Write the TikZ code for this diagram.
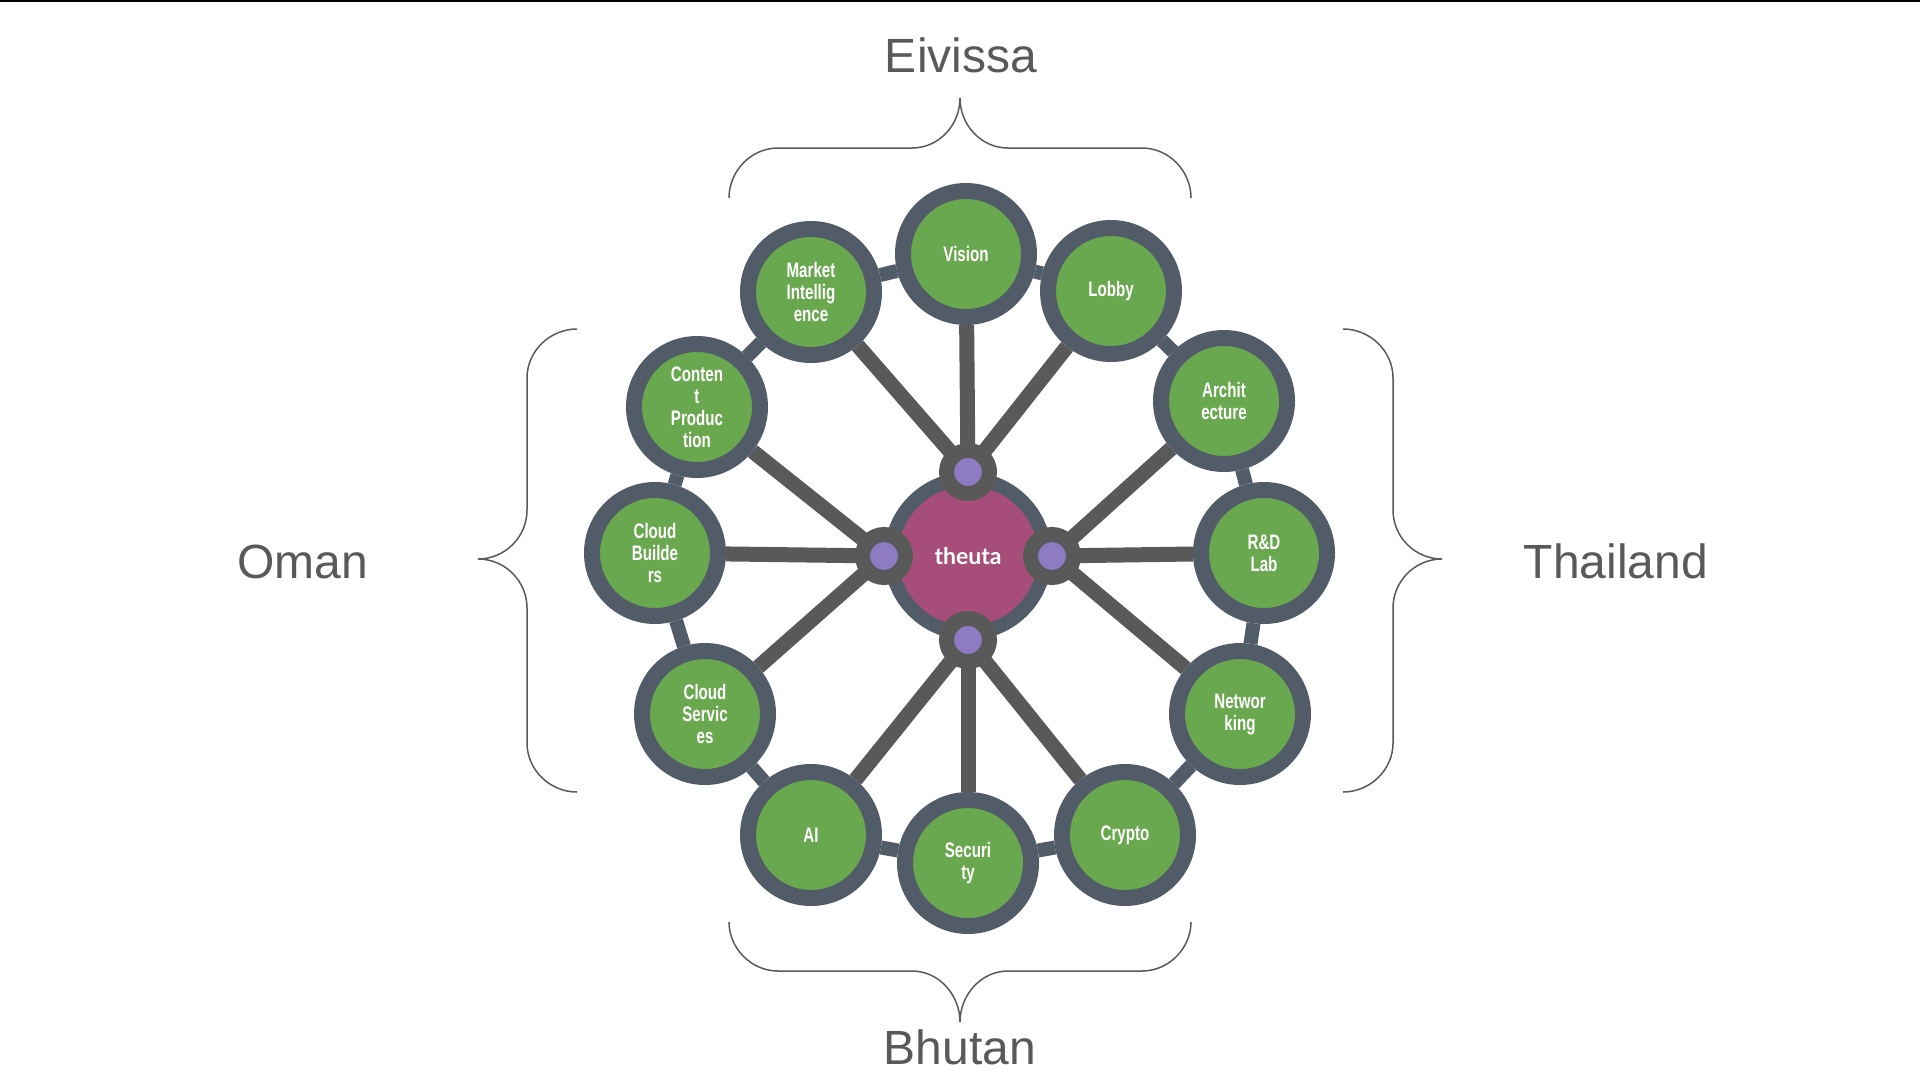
\documentclass[tikz,border=0pt]{standalone}
\usepackage{fontspec}
\setmainfont{Liberation Sans}
\newfontfamily\labelfont[FakeStretch=0.72]{Liberation Sans}
\newfontfamily\hubfont{Lato}
\usetikzlibrary{backgrounds}
\definecolor{ringgray}{RGB}{82,92,104}
\definecolor{leafgreen}{RGB}{106,168,79}
\definecolor{spokegray}{RGB}{89,89,89}
\definecolor{hubpink}{RGB}{166,77,121}
\definecolor{dotpurple}{RGB}{142,124,195}
\definecolor{textgray}{RGB}{89,89,89}

\begin{document}
\begin{tikzpicture}[x=1pt, y=-1pt,
    leaf/.style={circle, draw=ringgray, line width=16pt, fill=leafgreen, minimum size=126pt, inner sep=0pt,
        text=white, align=center, font=\labelfont\bfseries\fontsize{21}{22}\selectfont},
    hub/.style={circle, draw=ringgray, line width=14pt, fill=hubpink, minimum size=154pt, inner sep=0pt,
        text=white, font=\hubfont\bfseries\fontsize{23}{26}\selectfont},
    joint/.style={circle, draw=spokegray, line width=15pt, fill=dotpurple, minimum size=43pt, inner sep=0pt},
    spoke/.style={spokegray, line width=15pt},
    link/.style={ringgray, line width=14pt},
    brace/.style={textgray, line width=1.5pt},
    region/.style={anchor=base, inner sep=0pt, text=textgray, font=\fontsize{48}{48}\selectfont}]
    \useasboundingbox (0,0) rectangle (1920,1080);
    \draw[black, line width=1.5pt] (0,0.75) -- (1920,0.75);

    % Regions
    \node[region] (eivissa) at (961, 72) {Eivissa};
    \node[region] (bhutan) at (960, 1064) {Bhutan};
    \node[region] (oman) at (303, 578) {Oman};
    \node[region] (thailand) at (1616, 578) {Thailand};

    % Braces
    \draw[brace] (729,198) .. controls (729,171) and (751,148) .. (778,148) -- (912,148)
        .. controls (939,148) and (960,125) .. (960,98) .. controls (960,125) and (981,148) .. (1008,148)
        -- (1142,148) .. controls (1169,148) and (1191,171) .. (1191,198);
    \draw[brace] (729,922) .. controls (729,948) and (751,971) .. (778,971) -- (912,971)
        .. controls (939,971) and (960,995) .. (960,1022) .. controls (960,995) and (981,971) .. (1008,971)
        -- (1142,971) .. controls (1169,971) and (1191,948) .. (1191,922);
    \draw[brace] (577,329) .. controls (550,329) and (527,351) .. (527,378) -- (527,510)
        .. controls (527,537) and (505,559) .. (478,559) .. controls (505,559) and (527,581) .. (527,608)
        -- (527,743) .. controls (527,770) and (550,792) .. (577,792);
    \draw[brace] (1343,329) .. controls (1370,329) and (1393,351) .. (1393,378) -- (1393,510)
        .. controls (1393,537) and (1415,559) .. (1442,559) .. controls (1415,559) and (1393,581) .. (1393,608)
        -- (1393,743) .. controls (1393,770) and (1370,792) .. (1343,792);

    % Outer circles
    \node[leaf] (vision) at (966, 254) {Vision};
    \node[leaf] (lobby) at (1111, 291) {Lobby};
    \node[leaf] (arch) at (1224, 401) {Archit\\ecture};
    \node[leaf] (rnd) at (1264, 553) {R\&D\\Lab};
    \node[leaf] (net) at (1240, 714) {Networ\\king};
    \node[leaf] (crypto) at (1125, 835) {Crypto};
    \node[leaf] (sec) at (968, 863) {Securi\\ty};
    \node[leaf] (ai) at (811, 835) {AI};
    \node[leaf] (csvc) at (705, 714) {Cloud\\Servic\\es};
    \node[leaf] (cbld) at (655, 553) {Cloud\\Builde\\rs};
    \node[leaf] (cprod) at (697, 407) {Conten\\t\\Produc\\tion};
    \node[leaf] (mkt) at (811, 292) {Market\\Intellig\\ence};

    % Hub and joints
    \node[hub] (theuta) at (968, 556) {theuta};
    \node[joint] (jn) at (theuta.north) {};
    \node[joint] (je) at (theuta.east) {};
    \node[joint] (js) at (theuta.south) {};
    \node[joint] (jw) at (theuta.west) {};

    \begin{scope}[on background layer]
        % Ring links
        \draw[link] (vision) -- (lobby);
        \draw[link] (lobby) -- (arch);
        \draw[link] (arch) -- (rnd);
        \draw[link] (rnd) -- (net);
        \draw[link] (net) -- (crypto);
        \draw[link] (crypto) -- (sec);
        \draw[link] (sec) -- (ai);
        \draw[link] (ai) -- (csvc);
        \draw[link] (csvc) -- (cbld);
        \draw[link] (cbld) -- (cprod);
        \draw[link] (cprod) -- (mkt);
        \draw[link] (mkt) -- (vision);

        % Spokes
        \draw[spoke] (jn.center) -- (mkt);
        \draw[spoke] (jn.center) -- (vision);
        \draw[spoke] (jn.center) -- (lobby);
        \draw[spoke] (je.center) -- (arch);
        \draw[spoke] (je.center) -- (rnd);
        \draw[spoke] (je.center) -- (net);
        \draw[spoke] (js.center) -- (crypto);
        \draw[spoke] (js.center) -- (sec);
        \draw[spoke] (js.center) -- (ai);
        \draw[spoke] (jw.center) -- (csvc);
        \draw[spoke] (jw.center) -- (cbld);
        \draw[spoke] (jw.center) -- (cprod);
    \end{scope}
\end{tikzpicture}
\end{document}
